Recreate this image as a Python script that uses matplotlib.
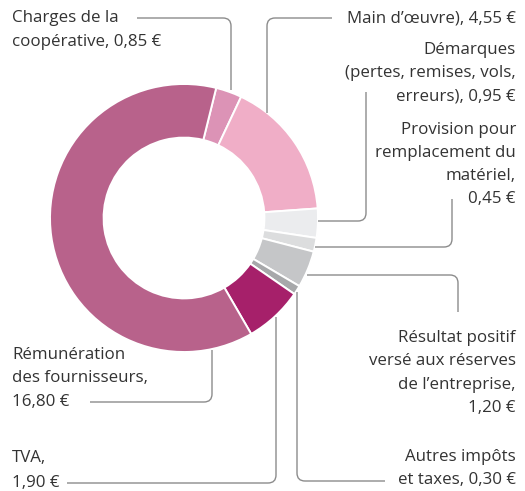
import math
import matplotlib
matplotlib.use("Agg")
import matplotlib.pyplot as plt
from matplotlib.path import Path
from matplotlib.patches import PathPatch

# ---- data ----
categories = ["Charges de la coopérative", "Main d'œuvre", "Démarques", "Provision pour remplacement du matériel",
              "Résultat positif versé aux réserves de l'entreprise", "Autres impôts et taxes", "TVA",
              "Rémunération des fournisseurs"]
values = [0.85, 4.55, 0.95, 0.45, 1.20, 0.30, 1.90, 16.80]
colors = ["#dc93b6", "#f0aec7", "#ebecee", "#dcddde", "#c5c6c8", "#a7a8aa", "#a6206a", "#b8628b"]

label_texts = [
    "Charges de la\ncoopérative, 0,85 €",
    "Main d’œuvre), 4,55 €",
    "Démarques\n(pertes, remises, vols,\nerreurs), 0,95 €",
    "Provision pour\nremplacement du\nmatériel,\n0,45 €",
    "Résultat positif\nversé aux réserves\nde l’entreprise,\n1,20 €",
    "Autres impôts\net taxes, 0,30 €",
    "TVA,\n1,90 €",
    "Rémunération\ndes fournisseurs,\n16,80 €",
]

W, H = 525, 491
fig = plt.figure(figsize=(W / 100, H / 100), dpi=100)
ax = fig.add_axes([0, 0, 1, 1])


def Y(y):
    return H - y


cx, cy, R = 184, Y(218), 134
ax.pie(values, colors=colors, startangle=76.1, counterclock=False, center=(cx, cy), radius=R,
       wedgeprops=dict(width=R * 0.4, edgecolor="white", linewidth=1.4))
ax.set_xlim(0, W)
ax.set_ylim(0, H)
ax.set_aspect("equal")
ax.axis("off")


def leader(points, r=8, color="#8c8c8c", lw=1.0):
    pts = [(x, Y(y)) for x, y in points]
    verts = [pts[0]]
    codes = [Path.MOVETO]
    for i in range(1, len(pts) - 1):
        p0, p1, p2 = pts[i - 1], pts[i], pts[i + 1]
        d1 = math.hypot(p1[0] - p0[0], p1[1] - p0[1])
        d2 = math.hypot(p2[0] - p1[0], p2[1] - p1[1])
        a = (p1[0] - (p1[0] - p0[0]) * r / d1, p1[1] - (p1[1] - p0[1]) * r / d1)
        b = (p1[0] + (p2[0] - p1[0]) * r / d2, p1[1] + (p2[1] - p1[1]) * r / d2)
        verts += [a, p1, b]
        codes += [Path.LINETO, Path.CURVE3, Path.CURVE3]
    verts.append(pts[-1])
    codes.append(Path.LINETO)
    ax.add_patch(PathPatch(Path(verts, codes), fill=False, edgecolor=color, lw=lw, capstyle="butt"))


leader([(137, 18), (231, 18), (231, 90)])
leader([(332, 18), (267, 18), (267, 113)])
leader([(366, 92), (366, 221), (318, 221)])
leader([(452, 199), (452, 247), (315, 247)])
leader([(307, 275), (458, 275), (458, 312)])
leader([(297, 292), (297, 481), (385, 481)])
leader([(276, 317), (276, 483), (67, 483)])
leader([(212, 350), (212, 402), (90, 402)])

fs = 12.2
tc = "#333333"
font = "Open Sans"


def txt(x, y, s, ha):
    ax.text(x, Y(y), s, ha=ha, va="center", fontsize=fs, color=tc, family=font)


txt(12, 18, label_texts[0].split("\n")[0], "left")
txt(12, 42, label_texts[0].split("\n")[1], "left")
txt(516, 18, label_texts[1], "right")
for i, line in enumerate(label_texts[2].split("\n")):
    txt(516, 50 + 23 * i, line, "right")
for i, line in enumerate(label_texts[3].split("\n")):
    txt(516, 130 + 23 * i, line, "right")
for i, line in enumerate(label_texts[4].split("\n")):
    txt(516, 338 + 23.3 * i, line, "right")
for i, line in enumerate(label_texts[5].split("\n")):
    txt(516, 457 + 23 * i, line, "right")
for i, line in enumerate(label_texts[6].split("\n")):
    txt(12, 458 + 25 * i, line, "left")
for i, line in enumerate(label_texts[7].split("\n")):
    txt(12, 355 + 23.5 * i, line, "left")

fig.savefig("out.png", dpi=100, facecolor="white")
